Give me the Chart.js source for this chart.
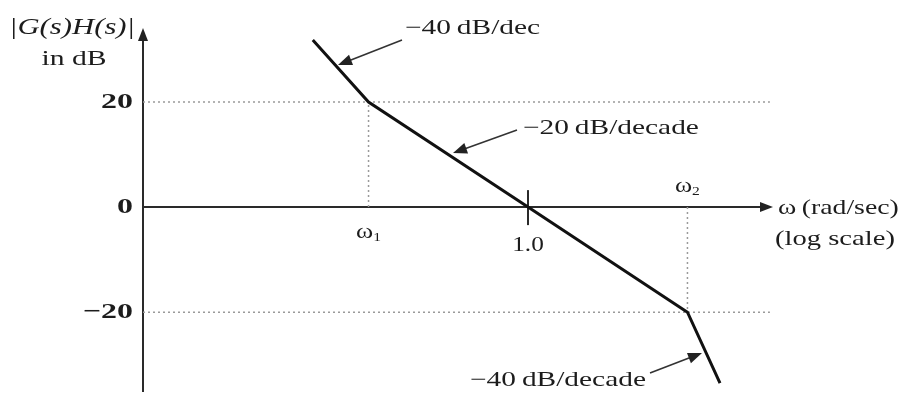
<!DOCTYPE html>
<html>
<head>
<meta charset="utf-8">
<script src="https://cdn.jsdelivr.net/npm/chart.js@4.4.0/dist/chart.umd.min.js"></script>
<style>
html,body{margin:0;padding:0;background:#fff;}
#wrap{width:901px;height:397px;position:relative;}
</style>
</head>
<body>
<div id="wrap"><canvas id="c"></canvas></div>
<script>
// ---- data ----
const omegaCurve = [0.0447, 0.1, 1, 10, 16.0];      // rad/sec (log scale)
const dbCurve    = [31.8, 20, 0, -20, -33.5];        // |G(s)H(s)| in dB
const yTickValues = [20, 0, -20];
const yTickLabels = ['20', '0', '\u221220'];
const xTickValues = [0.1, 1, 10];
const xTickLabels = [['\u03c9', '1'], ['1.0', ''], ['\u03c9', '2']];
const omegaMin = 0.00385, omegaMax = 34.4;
const dbMin = -35.2, dbMax = 34.1;
const guideEnd = 32.9;
// annotations: text, label anchor (omega, dB), arrow tail and tip (omega, dB)
const slopeNotes = [
  {text: '\u221240\u2009dB/dec',    at: [0.1693, 34.1],  tail: [0.1621, 31.82], tip: [0.0643, 27.06]},
  {text: '\u221220\u2009dB/decade', at: [0.930, 15.06],  tail: [0.853, 14.68],  tip: [0.3387, 10.30]},
  {text: '\u221240\u2009dB/decade', at: [0.4329, -32.92], tail: [5.824, -31.58], tip: [12.34, -27.78]}
];

const dataPts = omegaCurve.map((w, i) => ({x: w, y: dbCurve[i]}));

const ink = '#1c1c1c';
const serif = '"Liberation Serif", "DejaVu Serif", serif';

function stext(ctx, text, x, y, font, sx, align) {
  ctx.save();
  ctx.font = font;
  ctx.textAlign = align || 'left';
  ctx.textBaseline = 'middle';
  ctx.translate(x, y);
  ctx.scale(sx, 1);
  ctx.fillText(text, 0, 0);
  ctx.restore();
}
function swidth(ctx, text, font, sx) {
  ctx.save(); ctx.font = font;
  const w = ctx.measureText(text).width * sx;
  ctx.restore();
  return w;
}

function arrow(ctx, x1, y1, x2, y2) {
  const a = Math.atan2(y2 - y1, x2 - x1);
  const L = 14, W = 5.5;
  ctx.beginPath();
  ctx.moveTo(x1, y1);
  ctx.lineTo(x2 - Math.cos(a) * L * 0.8, y2 - Math.sin(a) * L * 0.8);
  ctx.lineWidth = 1.6;
  ctx.strokeStyle = '#333';
  ctx.stroke();
  ctx.beginPath();
  ctx.moveTo(x2, y2);
  ctx.lineTo(x2 - Math.cos(a) * L + Math.sin(a) * W, y2 - Math.sin(a) * L - Math.cos(a) * W);
  ctx.lineTo(x2 - Math.cos(a) * L - Math.sin(a) * W, y2 - Math.sin(a) * L + Math.cos(a) * W);
  ctx.closePath();
  ctx.fillStyle = '#222';
  ctx.fill();
}

const decorPlugin = {
  id: 'decor',
  beforeDatasetsDraw(chart) {
    const {ctx, scales: {x, y}} = chart;
    const x0 = x.getPixelForValue(omegaMin);
    const y0 = y.getPixelForValue(0);
    ctx.save();
    ctx.strokeStyle = '#2a2a2a';
    ctx.lineWidth = 2;
    ctx.beginPath();
    ctx.moveTo(x0, y.getPixelForValue(dbMin));
    ctx.lineTo(x0, y.getPixelForValue(dbMax) + 8);
    ctx.stroke();
    const xEnd = x.getPixelForValue(omegaMax);
    ctx.beginPath();
    ctx.moveTo(x0, y0);
    ctx.lineTo(xEnd - 8, y0);
    ctx.stroke();
    ctx.fillStyle = '#222';
    const yTop = y.getPixelForValue(dbMax);
    ctx.beginPath();
    ctx.moveTo(x0, yTop); ctx.lineTo(x0 - 5, yTop + 13); ctx.lineTo(x0 + 5, yTop + 13); ctx.closePath(); ctx.fill();
    ctx.beginPath();
    ctx.moveTo(xEnd, y0); ctx.lineTo(xEnd - 13, y0 - 5); ctx.lineTo(xEnd - 13, y0 + 5); ctx.closePath(); ctx.fill();
    const x1 = x.getPixelForValue(1);
    ctx.beginPath();
    ctx.moveTo(x1, y0 - 17); ctx.lineTo(x1, y0 + 18);
    ctx.stroke();
    ctx.restore();
  },
  afterDatasetsDraw(chart) {
    const {ctx, scales: {x, y}} = chart;
    const x0 = x.getPixelForValue(omegaMin);
    const y0 = y.getPixelForValue(0);
    const yTop = y.getPixelForValue(dbMax);
    ctx.save();
    ctx.fillStyle = ink;
    // y tick labels
    yTickValues.forEach((v, i) =>
      stext(ctx, yTickLabels[i], x0 - 10, y.getPixelForValue(v), 'bold 22px ' + serif, 1.45, 'right'));
    // x tick labels
    xTickValues.forEach((v, i) => {
      const px = x.getPixelForValue(v);
      const [main, sub] = xTickLabels[i];
      if (sub) {
        const py = i === 2 ? y0 - 20 : y0 + 26;
        const f1 = '20px ' + serif, f2 = '12px ' + serif, sx = 1.3;
        const w1 = swidth(ctx, main, f1, sx), w2 = swidth(ctx, sub, f2, sx);
        const left = px - (w1 + w2) / 2;
        stext(ctx, main, left, py, f1, sx, 'left');
        stext(ctx, sub, left + w1, py + 5, f2, sx, 'left');
      } else {
        stext(ctx, main, px, y0 + 38, '22px ' + serif, 1.15, 'center');
      }
    });
    // axis titles
    stext(ctx, '|G(s)H(s)|', 72, yTop, 'italic 24px ' + serif, 1.28, 'center');
    stext(ctx, 'in dB', 74, yTop + 31, '22px ' + serif, 1.35, 'center');
    const xEnd = x.getPixelForValue(omegaMax);
    stext(ctx, '\u03c9\u2009(rad/sec)', xEnd + 5, y0 + 1, '22px ' + serif, 1.26, 'left');
    stext(ctx, '(log scale)', xEnd + 2, y0 + 32, '22px ' + serif, 1.3, 'left');
    // slope annotations
    slopeNotes.forEach(n => {
      ctx.fillStyle = ink;
      stext(ctx, n.text, x.getPixelForValue(n.at[0]), y.getPixelForValue(n.at[1]), '21px ' + serif, 1.4, 'left');
      arrow(ctx, x.getPixelForValue(n.tail[0]), y.getPixelForValue(n.tail[1]),
                 x.getPixelForValue(n.tip[0]), y.getPixelForValue(n.tip[1]));
    });
    ctx.restore();
  }
};

const guide = (pts) => ({
  data: pts, borderColor: '#9a9a9a', borderWidth: 1.5, borderDash: [2, 3],
  pointRadius: 0, fill: false, tension: 0, order: 2
});

new Chart(document.getElementById('c'), {
  type: 'line',
  data: {
    datasets: [
      {data: dataPts, borderColor: '#111', borderWidth: 3, pointRadius: 0, fill: false, tension: 0, order: 1},
      guide([{x: omegaMin, y: yTickValues[0]}, {x: guideEnd, y: yTickValues[0]}]),
      guide([{x: omegaMin, y: yTickValues[2]}, {x: guideEnd, y: yTickValues[2]}]),
      guide([{x: xTickValues[0], y: 0}, {x: xTickValues[0], y: dbCurve[1]}]),
      guide([{x: xTickValues[2], y: 0}, {x: xTickValues[2], y: dbCurve[3]}])
    ]
  },
  options: {
    responsive: true,
    maintainAspectRatio: false,
    animation: false,
    layout: {padding: {left: 143, right: 128, top: 28, bottom: 5}},
    plugins: {legend: {display: false}, tooltip: {enabled: false}},
    scales: {
      x: {type: 'logarithmic', min: omegaMin, max: omegaMax, display: false},
      y: {type: 'linear', min: dbMin, max: dbMax, display: false}
    }
  },
  plugins: [decorPlugin]
});
</script>
</body>
</html>
